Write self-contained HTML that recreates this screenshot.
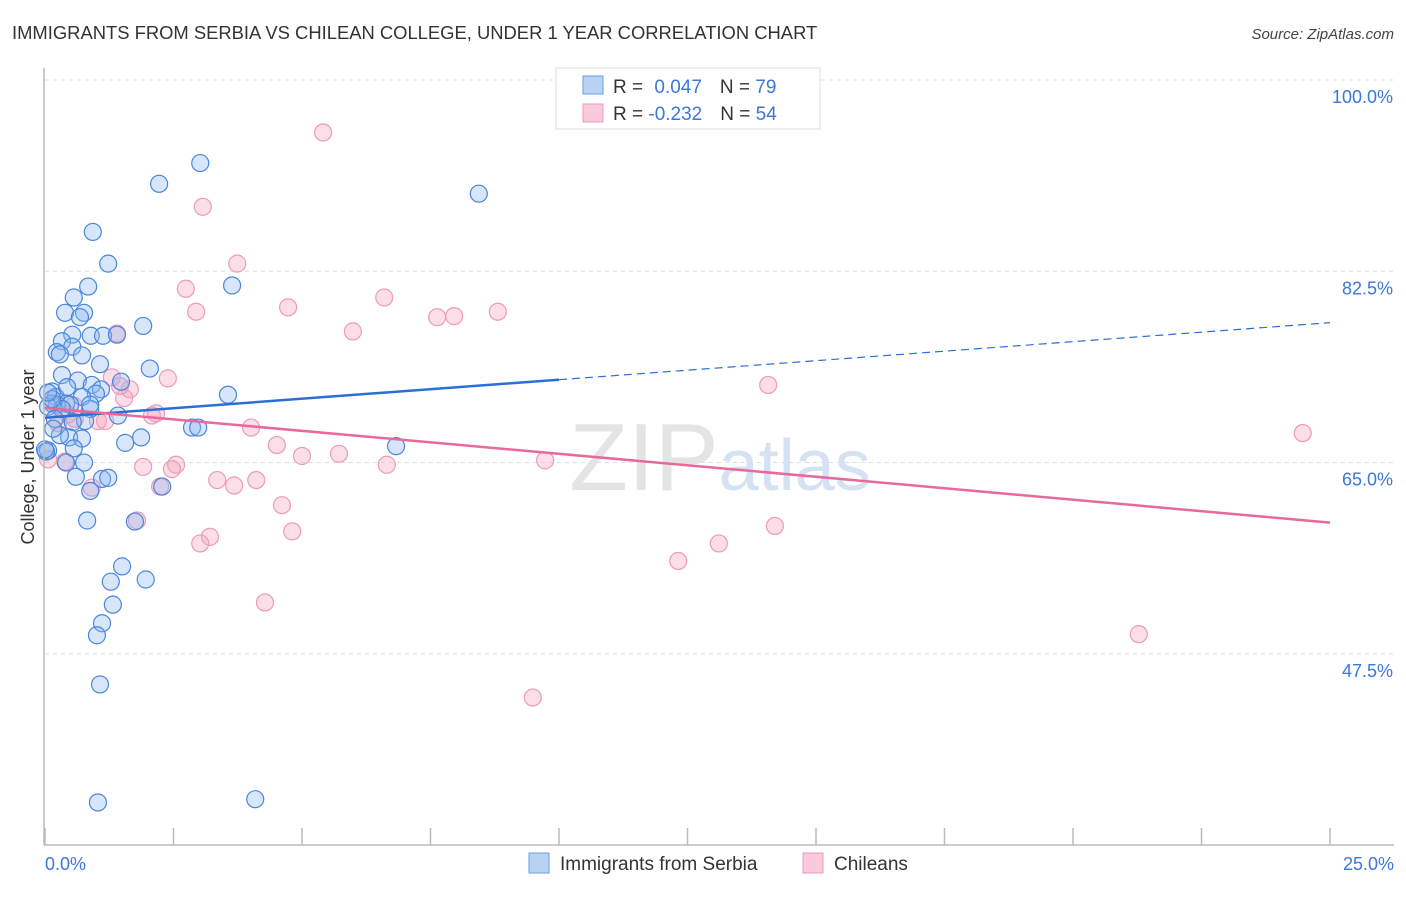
<!DOCTYPE html>
<html><head><meta charset="utf-8"><style>
body{margin:0;background:#fff;font-family:"Liberation Sans",sans-serif}
svg text{font-family:"Liberation Sans",sans-serif}
</style></head><body>
<svg id="chart" width="1406" height="892" xmlns="http://www.w3.org/2000/svg">
<text x="12" y="39" font-size="18.4" fill="#333">IMMIGRANTS FROM SERBIA VS CHILEAN COLLEGE, UNDER 1 YEAR CORRELATION CHART</text>
<text x="1394" y="39" font-size="15" fill="#444" font-style="italic" text-anchor="end">Source: ZipAtlas.com</text>
<g id="grid"></g>
<text x="720" y="490" font-size="96" text-anchor="middle" fill="#e4e4e4" font-family="Liberation Serif"><tspan>ZIP</tspan><tspan fill="#d4e2f4" font-family="Liberation Sans" font-size="72">atlas</tspan></text>
<g id="pts"></g>
<g id="trends"></g>
<line x1="44" y1="68" x2="44" y2="845" stroke="#bbb" stroke-width="1.5"/>
<line x1="44" y1="845" x2="1394" y2="845" stroke="#bbb" stroke-width="1.5"/>
<text transform="translate(34,457) rotate(-90)" font-size="18" fill="#333" text-anchor="middle">College, Under 1 year</text>
<text x="45" y="870" font-size="18" fill="#3b78d8">0.0%</text>
<text x="1394" y="870" font-size="18" fill="#3b78d8" text-anchor="end">25.0%</text>
<g>
<rect x="556" y="68" width="264" height="61" fill="#fff" stroke="#ddd"/>
<rect x="583" y="76" width="20" height="18" fill="#b9d3f5" stroke="#6a9ee6"/>
<rect x="583" y="104" width="20" height="18" fill="#f9cadb" stroke="#ec9bb8"/>
<text x="613" y="93" font-size="19" fill="#333">R = <tspan fill="#3b78d8" dx="6">0.047</tspan><tspan dx="18">N = </tspan><tspan fill="#3b78d8">79</tspan></text>
<text x="613" y="120" font-size="19" fill="#333">R = <tspan fill="#3b78d8">-0.232</tspan><tspan dx="18">N = </tspan><tspan fill="#3b78d8">54</tspan></text>
</g>
<g>
<rect x="529" y="853" width="20" height="20" fill="#b9d3f5" stroke="#6a9ee6"/>
<text x="560" y="870" font-size="19" fill="#333">Immigrants from Serbia</text>
<rect x="803" y="853" width="20" height="20" fill="#f9cadb" stroke="#ec9bb8"/>
<text x="834" y="870" font-size="19" fill="#333">Chileans</text>
</g>
</svg>
<script>
const yTicks=[100,82.5,65,47.5];
const yTickLabels=["100.0%","82.5%","65.0%","47.5%"];
const xTicks=[0,2.5,5,7.5,10,12.5,15,17.5,20,22.5,25];
const serbiaX=[3.02,2.22,8.44,0.93,1.23,0.84,3.64,0.56,0.39,0.76,0.68,1.91,0.53,0.89,1.13,1.40,0.33,0.53,0.23,0.29,0.72,2.04,0.33,0.64,0.91,1.09,1.48,0.99,3.56,0.14,0.21,0.72,0.41,0.23,0.49,0.88,0.14,0.33,0.06,0.78,0.54,0.47,0.72,1.56,1.87,2.86,2.98,6.83,0.56,0.06,0.76,0.41,0.60,1.11,1.23,0.88,2.28,1.75,0.82,1.50,1.96,1.28,1.32,1.11,1.01,1.07,1.03,4.09,0.02,0.14,0.43,0.06,1.07,1.42,0.29,0.88,0.19,0.16,0.0];
const serbiaY=[92.4,90.5,89.6,86.1,83.2,81.1,81.2,80.1,78.7,78.7,78.3,77.5,76.7,76.6,76.6,76.7,76.1,75.6,75.1,74.9,74.8,73.6,73.0,72.5,72.1,71.7,72.4,71.3,71.2,71.5,71.0,71.0,70.4,70.3,70.3,69.9,70.4,69.9,70.1,68.8,68.7,67.3,67.2,66.8,67.3,68.2,68.2,66.5,66.3,66.1,65.0,65.0,63.7,63.5,63.6,62.4,62.8,59.6,59.7,55.5,54.3,54.1,52.0,50.3,49.2,44.7,33.9,34.2,66.0,70.8,71.9,71.4,74.0,69.3,67.5,70.3,69.0,68.1,66.2];
const chileX=[5.41,3.07,3.74,2.74,6.60,2.94,4.73,5.99,7.63,7.96,8.81,1.40,2.39,1.30,1.65,1.54,2.08,2.16,4.01,4.51,5.00,5.72,6.65,9.73,14.07,24.47,1.91,2.55,2.47,3.35,3.68,4.11,4.61,4.81,3.02,3.21,1.79,4.28,12.32,13.11,14.20,21.28,9.49,2.24,0.91,0.39,0.06,0.58,1.17,1.03,0.45,0.25,1.46,0.56];
const chileY=[95.2,88.4,83.2,80.9,80.1,78.8,79.2,77.0,78.3,78.4,78.8,76.8,72.7,72.8,71.7,70.9,69.3,69.5,68.2,66.6,65.6,65.8,64.8,65.2,72.1,67.7,64.6,64.8,64.4,63.4,62.9,63.4,61.1,58.7,57.6,58.2,59.7,52.2,56.0,57.6,59.2,49.3,43.5,62.8,62.7,65.1,65.3,69.0,68.8,68.8,69.4,68.6,72.0,70.2];
const serbiaTrend=[69.1,77.8], serbiaSolidEnd=10;
const chileTrend=[70.0,59.5];
const NS="http://www.w3.org/2000/svg";
const xS=v=>45+v*51.4;
const yS=v=>80+(100-v)*10.93;
function mk(tag,attrs,parent){const e=document.createElementNS(NS,tag);for(const k in attrs)e.setAttribute(k,attrs[k]);parent.appendChild(e);return e;}
const grid=document.getElementById('grid');
yTicks.forEach((t,i)=>{
 const l=mk('line',{x1:45,x2:1394,y1:yS(t),y2:yS(t),stroke:'#ddd','stroke-dasharray':'4,4'},grid);
 
 
 const tx=mk('text',{x:1393,y:yS(t)+23,'font-size':18,fill:'#3b78d8','text-anchor':'end'},grid);
 tx.textContent=yTickLabels[i];
 
 
});
xTicks.forEach(t=>{
 const l=mk('line',{x1:xS(t),x2:xS(t),y1:828,y2:845,stroke:'#bbb','stroke-width':1.5},grid);
 
 
});
const pts=document.getElementById('pts');
chileX.forEach((x,i)=>{
 const c=mk('circle',{cx:xS(x),cy:yS(chileY[i]),r:8.5,fill:'rgba(243,160,190,0.35)',stroke:'#ec9bb8','stroke-width':1.2},pts);
 
 
});
serbiaX.forEach((x,i)=>{
 const c=mk('circle',{cx:xS(x),cy:yS(serbiaY[i]),r:8.5,fill:'rgba(140,184,240,0.35)',stroke:'#4a86dc','stroke-width':1.2},pts);
 
 
});
const tr=document.getElementById('trends');
const bAt=v=>serbiaTrend[0]+(serbiaTrend[1]-serbiaTrend[0])*v/25;
let l1=mk('line',{x1:xS(0),y1:yS(bAt(0)),x2:xS(serbiaSolidEnd),y2:yS(bAt(serbiaSolidEnd)),stroke:'#2a6fd6','stroke-width':2.5},tr);


let l2=mk('line',{x1:xS(serbiaSolidEnd),y1:yS(bAt(serbiaSolidEnd)),x2:xS(25),y2:yS(bAt(25)),stroke:'#2a6fd6','stroke-width':1.2,'stroke-dasharray':'8,5'},tr);


let l3=mk('line',{x1:xS(0),y1:yS(chileTrend[0]),x2:xS(25),y2:yS(chileTrend[1]),stroke:'#e8699a','stroke-width':2.5},tr);


</script>
</body></html>
